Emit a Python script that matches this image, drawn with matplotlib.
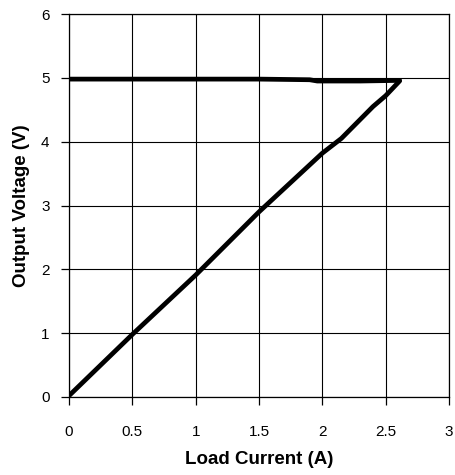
import matplotlib.pyplot as plt

# foldback curve: upper (regulated) branch and lower (foldback) branch
upper_current = [0.0, 0.5, 1.0, 1.5, 1.9, 1.96, 2.3, 2.61]
upper_voltage = [4.98, 4.98, 4.98, 4.98, 4.97, 4.95, 4.95, 4.96]

lower_current = [2.61, 2.5, 2.4, 2.15, 2.0, 1.5, 1.0, 0.5, 0.0]
lower_voltage = [4.95, 4.72, 4.55, 4.05, 3.82, 2.9, 1.91, 0.98, 0.02]

xticks = [0, 0.5, 1, 1.5, 2, 2.5, 3]
yticks = [0, 1, 2, 3, 4, 5, 6]

plt.rcParams['font.family'] = ['Liberation Sans', 'DejaVu Sans']

fig = plt.figure(figsize=(4.55, 4.75), dpi=100)
ax = fig.add_axes([69 / 455, 1 - 397 / 475, 380 / 455, 383 / 475])

ax.plot(upper_current, upper_voltage, color='black', lw=3.4, solid_capstyle='round', solid_joinstyle='round')
ax.plot(lower_current, lower_voltage, color='black', lw=3.4, solid_capstyle='round', solid_joinstyle='round')

ax.set_xlim(0, 3)
ax.set_ylim(0, 6)
ax.set_xticks(xticks)
ax.set_xticklabels(['0', '0.5', '1', '1.5', '2', '2.5', '3'])
ax.set_yticks(yticks)
ax.grid(True, color='black', lw=0.8)
ax.set_axisbelow(True)

for s in ax.spines.values():
    s.set_color('black')
    s.set_linewidth(0.9)

ax.tick_params(axis='x', direction='out', length=6, width=0.9, pad=14, labelsize=11)
ax.tick_params(axis='y', direction='out', length=6, width=0.9, pad=8, labelsize=11)

ax.set_xlabel('Load Current (A)', fontsize=13.5, fontweight='bold', labelpad=9)
ax.set_ylabel('Output Voltage (V)', fontsize=13.5, fontweight='bold', labelpad=8)

fig.savefig('out.png', dpi=100)
